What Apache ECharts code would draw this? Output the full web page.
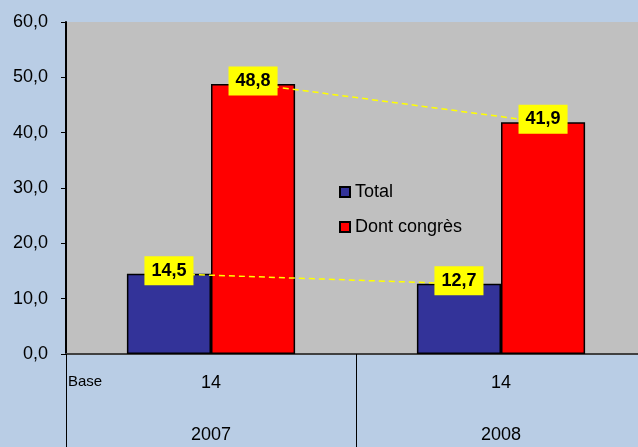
<!DOCTYPE html>
<html>
<head>
<meta charset="utf-8">
<script src="https://cdn.jsdelivr.net/npm/echarts@6/dist/echarts.min.js"></script>
<style>
  html, body { margin: 0; padding: 0; background: #b9cde5; overflow: hidden; }
  /* the plot area runs a little past the right edge of the picture */
  #chart { width: 646px; height: 447px; }
</style>
</head>
<body>
<div id="chart"></div>
<script>
const years = ['2007', '2008'];
const bases = [14, 14];
const total = [14.5, 12.7];
const congres = [48.8, 41.9];

const BAR_RATIO = 0.29;
const fmt = v => v.toFixed(1).replace('.', ',');

// dashed connector + yellow value box, drawn on the bar centres
function labelLine(vals, side) {
  return function (params, api) {
    const i = api.value(0);
    const v = api.value(1);
    const w = api.size([1, 0])[0] * BAR_RATIO;
    const p = api.coord([i, v]);
    const x = p[0] + side * w / 2;
    const children = [];
    if (i < vals.length - 1) {
      const q = api.coord([i + 1, vals[i + 1]]);
      children.push({
        type: 'line',
        shape: { x1: x, y1: p[1], x2: q[0] + side * w / 2, y2: q[1] },
        style: { stroke: '#ffff00', lineWidth: 1.5, lineDash: [6, 4] }
      });
    }
    children.push({
      type: 'text',
      x: x,
      y: p[1] - 3,
      style: {
        text: fmt(v),
        fill: '#000',
        font: 'bold 18px Arial, "Liberation Sans"',
        align: 'center',
        verticalAlign: 'middle',
        backgroundColor: '#ffff00',
        padding: [6, 7, 5, 7]
      }
    });
    return { type: 'group', children: children };
  };
}

const myChart = echarts.init(document.getElementById('chart'));
myChart.setOption({
  backgroundColor: '#b9cde5',
  animation: false,
  textStyle: { fontFamily: 'Arial, "Liberation Sans", sans-serif' },
  grid: {
    left: 66, right: 0, top: 22, bottom: 93,
    show: true, backgroundColor: '#c0c0c0', borderWidth: 0
  },
  legend: {
    data: ['Total', 'Dont congrès'],
    orient: 'vertical',
    left: 334, top: 178,
    itemWidth: 10, itemHeight: 10,
    itemGap: 17,
    icon: 'rect',
    textStyle: { fontSize: 18, color: '#000' }
  },
  graphic: [{
    type: 'text', left: 68, top: 374,
    style: { text: 'Base', font: '15px Arial, "Liberation Sans"', fill: '#000' }
  }],
  xAxis: {
    type: 'category',
    data: years,
    axisLine: { lineStyle: { color: '#404040', width: 2 } },
    axisTick: { show: true, length: 93, inside: false, lineStyle: { color: '#000', width: 1 } },
    axisLabel: {
      margin: 3,
      interval: 0,
      formatter: (v, i) => '{n|' + bases[i] + '}\n{y|' + v + '}',
      rich: {
        n: { fontSize: 18, lineHeight: 52, color: '#000' },
        y: { fontSize: 18, lineHeight: 52, color: '#000' }
      }
    }
  },
  yAxis: {
    type: 'value',
    min: 0, max: 60, interval: 10,
    axisLine: { show: true, lineStyle: { color: '#000', width: 2 } },
    axisTick: { show: true, length: 5, lineStyle: { color: '#000' } },
    axisLabel: { margin: 18, fontSize: 18, color: '#000', formatter: v => fmt(v) },
    splitLine: { show: false }
  },
  series: [
    {
      name: 'Total', type: 'bar', data: total,
      barWidth: (BAR_RATIO * 100) + '%', barGap: '0%',
      itemStyle: { color: '#333399', borderColor: '#000', borderWidth: 1.5 },
      z: 2
    },
    {
      name: 'Dont congrès', type: 'bar', data: congres,
      barWidth: (BAR_RATIO * 100) + '%', barGap: '0%',
      itemStyle: { color: '#ff0000', borderColor: '#000', borderWidth: 1.5 },
      z: 2
    },
    {
      name: 'totalLabels', type: 'custom', silent: true, z: 5,
      data: total.map((v, i) => [i, v]),
      renderItem: labelLine(total, -1)
    },
    {
      name: 'congresLabels', type: 'custom', silent: true, z: 5,
      data: congres.map((v, i) => [i, v]),
      renderItem: labelLine(congres, 1)
    }
  ]
});
</script>
</body>
</html>
